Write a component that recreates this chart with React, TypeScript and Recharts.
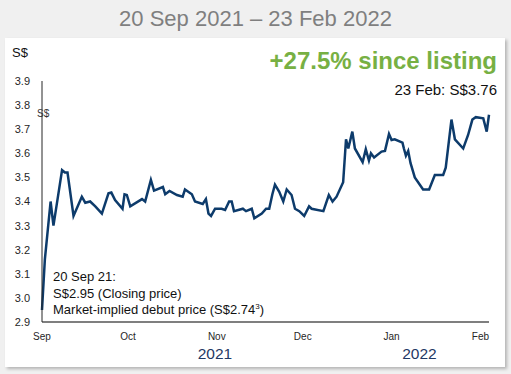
import React from 'react';
import { Line, LineChart, XAxis, YAxis } from 'recharts';

// calendar days since 20 Sep 2021
const days = [
  0, 1, 3, 4, 7, 8, 8.9, 11, 13.9, 15.1, 16.8, 18.6, 20.9, 23.2, 24.2, 25.5, 28.1, 28.8, 29.6, 30.8,
  34.9, 36, 38, 39.1, 42.2, 43, 44.5, 47.1, 49.1, 49.9, 52.3, 53.4, 56.1, 57.2, 58.1, 59, 60.4, 62.7,
  63.9, 65.3, 66.2, 67, 70.1, 71.2, 73.2, 74.1, 76.7, 78.2, 79.3, 80.4, 81.3, 82.8, 84.2, 85.4, 87.1,
  88.3, 89.8, 91.5, 93.2, 94.1, 98.2, 100.1, 101.4, 102.8, 105.1, 106.1, 106.9, 108.3, 109.2, 111.9,
  113, 114.1, 114.8, 115.9, 118.5, 119.7, 121.1, 122, 123.1, 125.8, 126.3, 127, 127.8, 128.6, 130.1,
  133, 135.1, 137.1, 140, 140.9, 142.9, 144.1, 147, 148.7, 150.2, 151.4, 154, 155.2, 156,
];

// closing price, S$
const prices = [
  2.95, 3.16, 3.4, 3.3, 3.53, 3.52, 3.52, 3.34, 3.42, 3.395, 3.4, 3.38, 3.35, 3.434, 3.437, 3.406, 3.37, 3.43, 3.427, 3.38,
  3.41, 3.4, 3.49, 3.445, 3.46, 3.43, 3.444, 3.427, 3.42, 3.45, 3.43, 3.4, 3.39, 3.41, 3.35, 3.34, 3.37, 3.37,
  3.365, 3.4, 3.4, 3.36, 3.37, 3.36, 3.37, 3.33, 3.35, 3.37, 3.37, 3.43, 3.47, 3.44, 3.4, 3.45, 3.427,
  3.37, 3.36, 3.34, 3.38, 3.37, 3.36, 3.427, 3.4, 3.42, 3.48, 3.658, 3.62, 3.69, 3.62, 3.563,
  3.617, 3.57, 3.6, 3.583, 3.607, 3.61, 3.68, 3.655, 3.658, 3.644, 3.62, 3.59, 3.61, 3.56, 3.5,
  3.45, 3.45, 3.51, 3.51, 3.54, 3.74, 3.658, 3.62, 3.676, 3.74, 3.75, 3.745, 3.69, 3.76,
];

const monthTicks = [0, 30, 61, 91, 122, 153];
const monthLabels = ['Sep', 'Oct', 'Nov', 'Dec', 'Jan', 'Feb'];
const priceTicks = [2.9, 3.0, 3.1, 3.2, 3.3, 3.4, 3.5, 3.6, 3.7, 3.8, 3.9];

const data = days.map((day, i) => ({ day, price: prices[i] }));

const font = '"Liberation Sans", Arial, sans-serif';

export default function App() {
  return (
    <div
      style={{
        position: 'absolute',
        left: 0,
        top: 0,
        width: 511,
        height: 374,
        background: '#f0f0f0',
        overflow: 'hidden',
        fontFamily: font,
      }}
    >
      <div
        style={{
          position: 'absolute',
          left: 5,
          top: 38,
          width: 500,
          height: 329,
          background: '#ffffff',
          boxShadow: '2px 2px 3px rgba(0,0,0,0.25)',
        }}
      />
      <div style={{ position: 'absolute', left: 0, top: 0 }}>
        <LineChart width={511} height={374} data={data} margin={{ top: 81, right: 22, bottom: 0, left: 0 }}>
          <XAxis
            dataKey="day"
            type="number"
            domain={[0, 156]}
            ticks={monthTicks}
            tickFormatter={(v: number) => monthLabels[monthTicks.indexOf(v)]}
            height={52}
            tickLine={false}
            tickSize={0}
            tickMargin={11}
            axisLine={{ stroke: '#7f7f7f', strokeWidth: 2 }}
            tick={{ fill: '#262626', fontSize: 10, fontFamily: font }}
          />
          <YAxis
            type="number"
            domain={[2.9, 3.9]}
            ticks={priceTicks}
            tickFormatter={(v: number) => v.toFixed(1)}
            width={42}
            tickLine={false}
            tickSize={0}
            tickMargin={12}
            axisLine={{ stroke: '#262626', strokeWidth: 1 }}
            tick={{ fill: '#262626', fontSize: 11, fontFamily: font }}
          />
          <Line
            dataKey="price"
            type="linear"
            stroke="#0d3b6b"
            strokeWidth={2.5}
            dot={false}
            isAnimationActive={false}
          />
        </LineChart>
      </div>
      <svg width={511} height={374} style={{ position: 'absolute', left: 0, top: 0, pointerEvents: 'none' }}>
        <g fontFamily={font}>
          <text x={255.5} y={26} fontSize={22} fill="#7f7f7f" textAnchor="middle">
            20 Sep 2021 – 23 Feb 2022
          </text>
          <text x={12} y={57} fontSize={13} fill="#111">S$</text>
          <text x={37} y={117} fontSize={10} fill="#333">S$</text>
          <text x={497} y={69} fontSize={24} fontWeight="bold" fill="#77b043" textAnchor="end">
            +27.5% since listing
          </text>
          <text x={497} y={95} fontSize={15} fill="#111" textAnchor="end">
            23 Feb: S$3.76
          </text>
          <text x={53} y={281} fontSize={13} fill="#111">20 Sep 21:</text>
          <text x={53} y={297.5} fontSize={13} fill="#111">S$2.95 (Closing price)</text>
          <text x={53} y={314} fontSize={13} fill="#111">
            Market-implied debut price (S$2.74
            <tspan fontSize={8} dy={-5}>3</tspan>
            <tspan dy={5}>)</tspan>
          </text>
          <text x={215} y={359} fontSize={15.5} fill="#1f3864" textAnchor="middle">2021</text>
          <text x={419.5} y={359} fontSize={15.5} fill="#1f3864" textAnchor="middle">2022</text>
        </g>
      </svg>
    </div>
  );
}
